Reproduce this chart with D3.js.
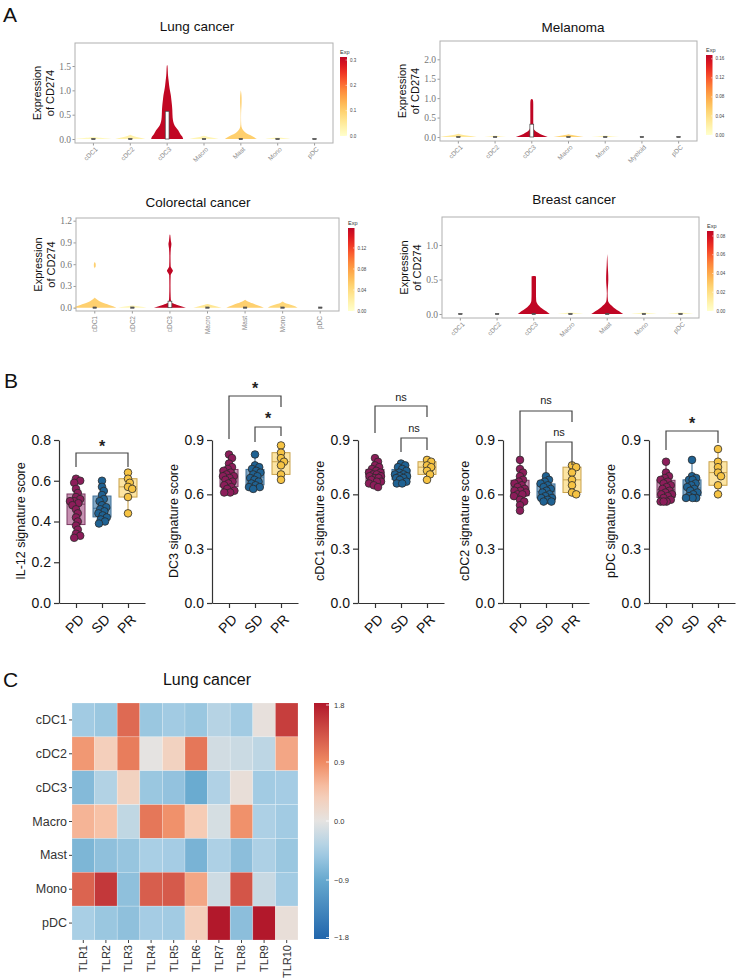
<!DOCTYPE html>
<html><head><meta charset="utf-8">
<script src="https://cdn.jsdelivr.net/npm/d3@7"></script>
<style>body{margin:0;background:#fff}svg{display:block;font-family:"Liberation Sans",Arial,sans-serif}</style>
</head><body><svg id="c" width="736" height="979"></svg>
<script>
// ===================== DATA =====================
// ---- Panel A: violin profiles [value, relative half-width], boxes [q1,q3], mean expression ----
const lungCats=["cDC1","cDC2","cDC3","Macro","Mast","Mono","pDC"];
const lungExp=[0.015,0.035,0.31,0.025,0.10,0.02,0];
const lungViolins=[
 [[0,1.0],[0.015,0.6],[0.03,0.2],[0.045,0]],
 [[0,0.82],[0.02,0.6],[0.04,0.35],[0.06,0.15],[0.085,0]],
 [[0,0.87],[0.05,0.82],[0.1,0.72],[0.18,0.6],[0.25,0.45],[0.32,0.36],[0.4,0.31],[0.5,0.29],[0.6,0.28],[0.7,0.26],[0.8,0.23],[0.9,0.2],[1.0,0.15],[1.1,0.11],[1.2,0.08],[1.3,0.05],[1.4,0.035],[1.5,0.02],[1.52,0]],
 [[0,0.8],[0.02,0.55],[0.04,0.25],[0.065,0]],
 [[0,0.87],[0.04,0.7],[0.08,0.5],[0.12,0.3],[0.17,0.15],[0.22,0.06],[0.3,0.02],[0.45,0.01],[0.6,0.02],[0.75,0.04],[0.85,0.04],[0.95,0.02],[1.0,0]],
 [[0,0.68],[0.015,0.4],[0.03,0]],
 []
];
const lungBoxes=[[0,0],[0,0],[0,0.57],[0,0],[0,0],[0,0],[0,0]];
const lungYTicks=[0,0.5,1,1.5];
const lungExpTicks=[0,0.1,0.2,0.3];

const melCats=["cDC1","cDC2","cDC3","Macro","Mono","Myeloid","pDC"];
const melExp=[0.03,0.02,0.168,0.05,0.015,0,0];
const melViolins=[
 [[0,1.0],[0.03,0.55],[0.06,0.2],[0.085,0]],
 [[0,0.6],[0.015,0.3],[0.03,0]],
 [[0,0.87],[0.04,0.65],[0.08,0.45],[0.12,0.3],[0.17,0.17],[0.22,0.1],[0.3,0.08],[0.5,0.08],[0.7,0.08],[0.85,0.08],[0.93,0.07],[0.97,0.04],[0.98,0]],
 [[0,0.82],[0.025,0.5],[0.05,0.2],[0.07,0]],
 [[0,0.76],[0.015,0.4],[0.03,0]],
 [],
 []
];
const melBoxes=[[0,0],[0,0],[0,0.33],[0,0],[0,0],[0,0],[0,0]];
const melYTicks=[0,0.5,1,1.5,2];
const melExpTicks=[0,0.04,0.08,0.12,0.16];

const crcCats=["cDC1","cDC2","cDC3","Macro","Mast","Mono","pDC"];
const crcExp=[0.05,0.01,0.158,0.03,0.05,0.045,0];
const crcViolins=[
 [[0,1.15],[0.03,0.85],[0.06,0.5],[0.09,0.25],[0.12,0.08],[0.14,0],[0.54,0],[0.57,0.05],[0.6,0.05],[0.63,0]],
 [[0,0.75],[0.015,0.4],[0.03,0]],
 [[0,0.85],[0.02,0.6],[0.04,0.35],[0.06,0.15],[0.09,0.06],[0.15,0.04],[0.3,0.03],[0.45,0.04],[0.49,0.12],[0.51,0.16],[0.53,0.12],[0.57,0.04],[0.7,0.03],[0.82,0.05],[0.88,0.08],[0.92,0.05],[1.0,0.02],[1.01,0]],
 [[0,0.75],[0.02,0.45],[0.04,0.15],[0.05,0]],
 [[0,1.0],[0.03,0.7],[0.06,0.4],[0.09,0.12],[0.11,0]],
 [[0,0.8],[0.03,0.55],[0.05,0.3],[0.07,0.1],[0.085,0]],
 []
];
const crcBoxes=[[0,0],[0,0],[0,0.09],[0,0],[0,0],[0,0],[0,0]];
const crcYTicks=[0,0.3,0.6,0.9,1.2];
const crcExpTicks=[0,0.04,0.08,0.12];

const brcCats=["cDC1","cDC2","cDC3","Macro","Mast","Mono","pDC"];
const brcExp=[0,0,0.085,0.005,0.085,0.005,0.005];
const brcViolins=[
 [],
 [],
 [[0,0.87],[0.04,0.68],[0.08,0.45],[0.12,0.28],[0.16,0.17],[0.2,0.13],[0.3,0.12],[0.4,0.12],[0.5,0.12],[0.545,0.12],[0.55,0]],
 [[0,0.7],[0.01,0.35],[0.02,0]],
 [[0,0.87],[0.04,0.65],[0.08,0.42],[0.12,0.25],[0.16,0.1],[0.2,0.04],[0.3,0.02],[0.4,0.04],[0.5,0.06],[0.6,0.05],[0.7,0.03],[0.8,0.015],[0.87,0]],
 [[0,0.7],[0.01,0.35],[0.02,0]],
 [[0,0.7],[0.01,0.35],[0.02,0]]
];
const brcBoxes=[[0,0],[0,0],[0,0],[0,0],[0,0],[0,0],[0,0]];
const brcYTicks=[0,0.5,1];
const brcExpTicks=[0,0.02,0.04,0.06,0.08];

// ---- Panel B: signature scores per response group ----
const groups=["PD","SD","PR"];
const il12PD=[0.61,0.60,0.59,0.56,0.54,0.52,0.51,0.50,0.50,0.49,0.48,0.46,0.44,0.42,0.40,0.38,0.36,0.34,0.33,0.32];
const il12SD=[0.60,0.57,0.55,0.53,0.51,0.50,0.48,0.47,0.46,0.45,0.44,0.43,0.42,0.41,0.40,0.39];
const il12PR=[0.64,0.61,0.59,0.57,0.56,0.52,0.44];
const dc3PD=[0.82,0.80,0.77,0.75,0.74,0.73,0.72,0.71,0.70,0.70,0.69,0.68,0.67,0.66,0.65,0.64,0.63,0.62,0.61,0.61];
const dc3SD=[0.82,0.76,0.75,0.74,0.73,0.72,0.71,0.70,0.69,0.68,0.67,0.66,0.65,0.64,0.64,0.63];
const dc3PR=[0.87,0.83,0.80,0.78,0.76,0.71,0.68];
const cdc1PD=[0.80,0.78,0.76,0.75,0.74,0.73,0.72,0.72,0.71,0.71,0.70,0.70,0.69,0.69,0.68,0.67,0.67,0.66,0.65,0.64];
const cdc1SD=[0.77,0.76,0.75,0.74,0.73,0.72,0.71,0.71,0.70,0.70,0.69,0.69,0.68,0.67,0.66,0.66];
const cdc1PR=[0.79,0.78,0.76,0.75,0.73,0.71,0.68];
const cdc2PD=[0.79,0.74,0.72,0.70,0.68,0.67,0.66,0.65,0.64,0.63,0.62,0.62,0.61,0.60,0.60,0.59,0.57,0.56,0.54,0.51];
const cdc2SD=[0.70,0.68,0.67,0.66,0.65,0.64,0.63,0.62,0.61,0.60,0.59,0.58,0.58,0.57,0.56,0.56];
const cdc2PR=[0.76,0.75,0.72,0.68,0.65,0.61,0.60];
const pdcPD=[0.78,0.72,0.70,0.69,0.68,0.67,0.66,0.65,0.64,0.63,0.62,0.61,0.60,0.60,0.59,0.58,0.57,0.56,0.56,0.56];
const pdcSD=[0.79,0.70,0.69,0.68,0.68,0.66,0.65,0.64,0.63,0.62,0.61,0.60,0.59,0.58,0.58,0.58];
const pdcPR=[0.85,0.78,0.75,0.72,0.70,0.65,0.60];
const bLabels=["IL-12 signature score","DC3 signature score","cDC1 signature score","cDC2 signature score","pDC signature score"];
const bTicks02=[0,0.2,0.4,0.6,0.8];
const bTicks03=[0,0.3,0.6,0.9];
const bComparisons=[
 [["PD","PR","*"]],
 [["PD","PR","*"],["SD","PR","*"]],
 [["PD","PR","ns"],["SD","PR","ns"]],
 [["PD","PR","ns"],["SD","PR","ns"]],
 [["PD","PR","*"]]
];

// ---- Panel C: heatmap ----
const hmRows=["cDC1","cDC2","cDC3","Macro","Mast","Mono","pDC"];
const hmCols=["TLR1","TLR2","TLR3","TLR4","TLR5","TLR6","TLR7","TLR8","TLR9","TLR10"];
const hmValues=[
 [-0.50,-0.55,1.15,-0.55,-0.50,-0.55,-0.35,-0.50,0.05,1.50],
 [0.80,0.35,1.00,0.00,0.30,1.05,-0.15,-0.20,-0.30,0.70],
 [-0.70,-0.38,0.30,-0.55,-0.60,-0.88,-0.40,0.08,-0.50,-0.48],
 [0.60,0.50,-0.28,1.05,0.85,0.40,-0.12,0.85,-0.42,-0.50],
 [-0.75,-0.63,-0.57,-0.45,-0.48,-0.78,-0.42,-0.65,-0.42,-0.55],
 [1.20,1.55,-0.63,1.25,1.28,0.70,-0.18,1.32,-0.22,-0.50],
 [-0.45,-0.55,-0.63,-0.48,-0.50,0.35,1.80,-0.65,1.80,0.08]
];
const hmTicks=[-1.8,-0.9,0,0.9,1.8];

// ===================== DRAWING =====================
const svg=d3.select("#c");
const FS='"Liberation Sans",Arial,sans-serif';

// ---------- Panel A ----------
function violinPanel(cfg){
  const g=svg.append("g");
  const f=cfg.frame;
  const x=d3.scaleBand().domain(cfg.cats).range([f.x0,f.x1]);
  const y=d3.scaleLinear().domain(cfg.yDomain).range([f.y1,f.y0]);
  const col=v=>d3.interpolateYlOrRd(0.86*Math.min(1,v/cfg.expMax));
  const half=x.bandwidth()/2;
  const ya=g.append("g").attr("transform",`translate(${f.x0},0)`)
    .call(d3.axisLeft(y).tickValues(cfg.yTicks).tickSize(2.5).tickPadding(1.5).tickFormat(d3.format(".1f")));
  ya.select(".domain").remove();
  ya.selectAll("line").attr("stroke","#999");
  ya.selectAll("text").attr("fill","#777").style("font-family",'"Liberation Serif",serif').style("font-size","9.5px");
  const xa=g.append("g").attr("transform",`translate(0,${f.y1})`)
    .call(d3.axisBottom(x).tickSize(2.5));
  xa.select(".domain").remove();
  xa.selectAll("line").attr("stroke","#999");
  const xt=xa.selectAll("text").attr("fill","#888").style("font-family",FS).style("font-size","6.5px")
    .attr("x",0).attr("y",0).attr("dy","0.35em").attr("text-anchor","end");
  if(cfg.rot===-90) xt.attr("transform","translate(0,5) rotate(-90)");
  else xt.attr("transform","translate(3,5) rotate(-45)");
  cfg.cats.forEach((c,i)=>{
    const cx=x(c)+half;
    const prof=cfg.violins[i];
    if(prof.length){
      const area=d3.area().curve(d3.curveMonotoneY)
        .y(d=>y(d[0])).x0(d=>cx-d[1]*half).x1(d=>cx+d[1]*half);
      g.append("path").datum(prof).attr("d",area).attr("fill",col(cfg.exp[i]));
    }
    const b=cfg.boxes[i];
    const h=y(b[0])-y(b[1]);
    g.append("rect").attr("x",cx-1.9).attr("width",3.8)
      .attr("y",h>0?y(b[1]):y(b[0])-0.8).attr("height",h>0?h:1.6)
      .attr("fill",h>0?"#fff":"#555").attr("stroke","#444").attr("stroke-width",h>0?0.7:0.3);
  });
  g.append("rect").attr("x",f.x0).attr("y",f.y0).attr("width",f.x1-f.x0).attr("height",f.y1-f.y0)
    .attr("fill","none").attr("stroke","#b0b0b0").attr("stroke-width",1);
  g.append("text").attr("x",cfg.title.x).attr("y",cfg.title.y).attr("text-anchor","middle")
    .style("font-size","13.5px").attr("fill","#111").text(cfg.title.t);
  const ym=(f.y0+f.y1)/2;
  [["Expression",37.5],["of CD274",25]].forEach(([t,dx])=>{
    g.append("text").attr("transform",`translate(${f.x0-dx},${ym}) rotate(-90)`).attr("text-anchor","middle")
      .attr("dy","0.35em").style("font-size","11px").attr("fill","#111").text(t);
  });
  const cb=cfg.cbar;
  const cy=d3.scaleLinear().domain([0,cfg.expMax]).range([cb.y1,cb.y0]);
  const gid="g"+cfg.id;
  const lg=svg.append("defs").append("linearGradient").attr("id",gid).attr("x1",0).attr("x2",0).attr("y1",1).attr("y2",0);
  d3.range(0,1.0001,0.1).forEach(t=>lg.append("stop").attr("offset",t).attr("stop-color",col(t*cfg.expMax)));
  g.append("rect").attr("x",cb.x).attr("y",cb.y0).attr("width",cb.w).attr("height",cb.y1-cb.y0).attr("fill",`url(#${gid})`);
  cfg.expTicks.forEach(v=>{
    g.append("line").attr("x1",cb.x+cb.w-1.5).attr("x2",cb.x+cb.w).attr("y1",cy(v)).attr("y2",cy(v)).attr("stroke","#fff").attr("stroke-width",0.5);
    g.append("text").attr("x",cb.x+cb.w+3).attr("y",cy(v)).attr("dy","0.35em").style("font-size","4.5px").attr("fill","#444")
      .text(d3.format(cfg.expFmt)(v));
  });
  g.append("text").attr("x",cb.x).attr("y",cb.y0-3).style("font-size","5.5px").attr("fill","#333").text("Exp");
}

violinPanel({id:"lung",cats:lungCats,exp:lungExp,violins:lungViolins,boxes:lungBoxes,yTicks:lungYTicks,
  frame:{x0:75,x1:333,y0:43,y1:143},yDomain:[-0.082,1.973],expMax:0.312,expTicks:lungExpTicks,expFmt:".1f",
  cbar:{x:340,w:7,y0:57,y1:136},title:{t:"Lung cancer",x:197,y:31},rot:-45});
violinPanel({id:"mel",cats:melCats,exp:melExp,violins:melViolins,boxes:melBoxes,yTicks:melYTicks,
  frame:{x0:440,x1:697,y0:41,y1:141},yDomain:[-0.103,2.471],expMax:0.168,expTicks:melExpTicks,expFmt:".2f",
  cbar:{x:706,w:6.5,y0:55,y1:135},title:{t:"Melanoma",x:573,y:32},rot:-45});
violinPanel({id:"crc",cats:crcCats,exp:crcExp,violins:crcViolins,boxes:crcBoxes,yTicks:crcYTicks,
  frame:{x0:76,x1:339,y0:218,y1:311},yDomain:[-0.0455,1.237],expMax:0.158,expTicks:crcExpTicks,expFmt:".2f",
  cbar:{x:348,w:6.5,y0:228,y1:311},title:{t:"Colorectal cancer",x:198,y:207},rot:-90});
violinPanel({id:"brc",cats:brcCats,exp:brcExp,violins:brcViolins,boxes:brcBoxes,yTicks:brcYTicks,
  frame:{x0:442,x1:699,y0:217,y1:318},yDomain:[-0.058,1.406],expMax:0.0853,expTicks:brcExpTicks,expFmt:".2f",
  cbar:{x:707,w:6.5,y0:231,y1:311},title:{t:"Breast cancer",x:574,y:204},rot:-45});

// ---------- Panel B ----------
const bData=[[il12PD,il12SD,il12PR],[dc3PD,dc3SD,dc3PR],[cdc1PD,cdc1SD,cdc1PR],[cdc2PD,cdc2SD,cdc2PR],[pdcPD,pdcSD,pdcPR]];
const bAxisX=[59,212,358,503,649];
const bMax=[0.8,0.9,0.9,0.9,0.9];
const bTickSets=[bTicks02,bTicks03,bTicks03,bTicks03,bTicks03];
const bBracketPos=[
 [[453,467,467,443]],
 [[396,439,407,385],[427,442,436,415]],
 [[406,433,417,397],[438,452,450,428]],
 [[411,457,422,400],[442,473,465,432]],
 [[431,450,443,420]]
];
const gFill={PD:"#8C1D5A",SD:"#1F6293",PR:"#F6C343"};
const gBox={PD:"#C790B2",SD:"#80A7C5",PR:"#FCE4A2"};
const gLine={PD:"#7a3a62",SD:"#3f7098",PR:"#c9a24c"};
function prismQ(sorted,p){const pos=(sorted.length+1)*p;const lo=Math.max(1,Math.min(sorted.length,Math.floor(pos)));const hi=Math.min(sorted.length,lo+1);const fr=pos-Math.floor(pos);return sorted[lo-1]+(sorted[hi-1]-sorted[lo-1])*(pos>=1?fr:0);}
function swarm(vals,y,r,maxOff){
  const pts=vals.map(v=>({v,y:y(v)})).sort((a,b)=>a.y-b.y);
  const placed=[];
  pts.forEach(p=>{
    let best=0,bestD=-1;
    for(let k=0;k<60;k++){
      const o=(k%2?1:-1)*Math.ceil(k/2)*0.6;
      if(Math.abs(o)>maxOff) break;
      const d=placed.length?d3.min(placed,q=>Math.hypot(q.x-o,q.y-p.y)):1e9;
      if(d>=r*1.15){best=o;bestD=d;break;}
      if(d>bestD){bestD=d;best=o;}
    }
    p.x=best;placed.push(p);
  });
  return pts;
}
bData.forEach((ds,pi)=>{
  const ax=bAxisX[pi];
  const g=svg.append("g");
  const y=d3.scaleLinear().domain([0,bMax[pi]]).range([603,440]);
  const x=d3.scalePoint().domain(groups).range([ax,ax+86]).padding(0.654);
  const yA=g.append("g").attr("transform",`translate(${ax},0)`)
    .call(d3.axisLeft(y).tickValues(bTickSets[pi]).tickFormat(d3.format(".1f")).tickSize(5).tickSizeOuter(0).tickPadding(3));
  yA.selectAll("path,line").attr("stroke","#333").attr("stroke-width",1.2);
  yA.selectAll("text").style("font-family",FS).style("font-size","14px").attr("fill","#111");
  const xA=g.append("g").attr("transform","translate(0,603)")
    .call(d3.axisBottom(x).tickSize(5).tickSizeOuter(0));
  xA.selectAll("path,line").attr("stroke","#333").attr("stroke-width",1.2);
  xA.selectAll("text").style("font-family",FS).style("font-size","14px").attr("fill","#111")
    .attr("x",0).attr("y",0).attr("dy","0.35em").attr("text-anchor","end").attr("transform","translate(5,14) rotate(-45)");
  g.append("text").attr("transform",`translate(${ax-38},521) rotate(-90)`).attr("text-anchor","middle").attr("dy","0.35em")
    .style("font-size","12.5px").attr("fill","#111").text(bLabels[pi]);
  groups.forEach((gr,gi)=>{
    const vals=ds[gi].slice().sort((a,b)=>a-b);
    const cx=x(gr);
    const q1=prismQ(vals,0.25),q3=prismQ(vals,0.75),md=prismQ(vals,0.5);
    g.append("line").attr("x1",cx).attr("x2",cx).attr("y1",y(vals[0])).attr("y2",y(vals[vals.length-1])).attr("stroke",gLine[gr]).attr("stroke-width",1.1);
    g.append("rect").attr("x",cx-9).attr("width",18).attr("y",y(q3)).attr("height",y(q1)-y(q3))
      .attr("fill",gBox[gr]).attr("stroke",gLine[gr]).attr("stroke-width",1);
    g.append("line").attr("x1",cx-9).attr("x2",cx+9).attr("y1",y(md)).attr("y2",y(md)).attr("stroke",gLine[gr]).attr("stroke-width",1);
    swarm(ds[gi],y,3.8,6.5).forEach(p=>{
      g.append("circle").attr("cx",cx+p.x).attr("cy",p.y).attr("r",3.8).attr("fill",gFill[gr]).attr("stroke","#2a2a2a").attr("stroke-width",0.8);
    });
  });
  bComparisons[pi].forEach((c,ci)=>{
    const [top,la,lb,ty]=bBracketPos[pi][ci];
    const xa=x(c[0]),xb=x(c[1]);
    g.append("path").attr("d",`M${xa},${la}V${top}H${xb}V${lb}`).attr("fill","none").attr("stroke","#444").attr("stroke-width",1.2);
    const star=c[2]==="*";
    g.append("text").attr("x",(xa+xb)/2).attr("y",star?ty+9:ty+3.5).attr("text-anchor","middle")
      .style("font-size",star?"16px":"11px").style("font-weight",star?"bold":"normal").attr("fill","#222").text(c[2]);
  });
});

// ---------- Panel C ----------
const hmColor=d3.scaleLinear().domain([-1.8,-0.9,-0.45,0,0.45,0.9,1.8])
  .range(["#2166ac","#67a9cf","#a9cfe5","#e5e3e1","#f8c9b0","#ef8a62","#b2182b"]).interpolate(d3.interpolateRgb);
const hx=d3.scaleBand().domain(hmCols).range([72,298]);
const hy=d3.scaleBand().domain(hmRows).range([703,940]);
const hg=svg.append("g");
hmValues.forEach((row,ri)=>row.forEach((v,ci)=>{
  hg.append("rect").attr("x",hx(hmCols[ci])).attr("y",hy(hmRows[ri])).attr("width",hx.bandwidth()).attr("height",hy.bandwidth())
    .attr("fill",hmColor(v)).attr("stroke","rgba(255,255,255,0.35)").attr("stroke-width",0.6);
}));
const hyA=hg.append("g").attr("transform","translate(72,0)").call(d3.axisLeft(hy).tickSize(3).tickPadding(2));
hyA.select(".domain").remove();
hyA.selectAll("line").attr("stroke","#444");
hyA.selectAll("text").style("font-family",FS).style("font-size","12.5px").attr("fill","#333");
const hxA=hg.append("g").attr("transform","translate(0,940)").call(d3.axisBottom(hx).tickSize(3));
hxA.select(".domain").remove();
hxA.selectAll("line").attr("stroke","#444");
hxA.selectAll("text").style("font-family",FS).style("font-size","11px").attr("fill","#333")
  .attr("x",0).attr("y",0).attr("dy","0.35em").attr("text-anchor","end").attr("transform","translate(0,5) rotate(-90)");
hg.append("text").attr("x",207).attr("y",685).attr("text-anchor","middle").style("font-size","16px").attr("fill","#111").text("Lung cancer");
const hcy=d3.scaleLinear().domain([-1.8,1.8]).range([939,703]);
const hlg=svg.append("defs").append("linearGradient").attr("id","hmg").attr("x1",0).attr("x2",0).attr("y1",1).attr("y2",0);
d3.range(0,1.0001,0.05).forEach(t=>hlg.append("stop").attr("offset",t).attr("stop-color",hmColor(-1.8+3.6*t)));
hg.append("rect").attr("x",314).attr("y",703).attr("width",15).attr("height",236).attr("fill","url(#hmg)");
hmTicks.forEach(v=>{
  const yy=hcy(v)+(v===1.8?2:v===-1.8?-1.5:0);
  hg.append("line").attr("x1",326).attr("x2",329).attr("y1",yy).attr("y2",yy).attr("stroke","#fff").attr("stroke-width",0.8);
  hg.append("text").attr("x",334).attr("y",yy).attr("dy","0.35em").style("font-size","7.5px").attr("fill","#333")
    .text(v<0?"\u2212"+d3.format(".1f")(-v):d3.format(".1f")(v));
});

// ---------- panel letters ----------
[["A",3,22],["B",4,388],["C",3,687]].forEach(([t,x,y])=>{
  svg.append("text").attr("x",x).attr("y",y).style("font-size","21px").attr("fill","#111").text(t);
});
</script></body></html>
